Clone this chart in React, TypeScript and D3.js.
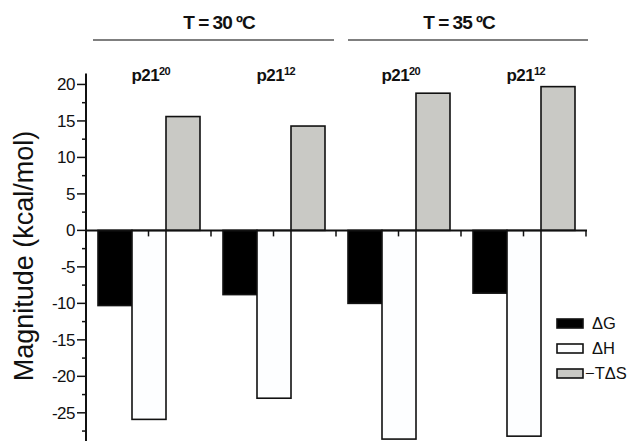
import * as d3 from "d3";
import React, { useEffect, useRef } from "react";

const groups = ["30-p21-20", "30-p21-12", "35-p21-20", "35-p21-12"];
const groupSup = ["20", "12", "20", "12"];
const series = ["ΔG", "ΔH", "−TΔS"];
const dG = [-10.3, -8.8, -10.0, -8.6];
const dH = [-25.9, -23.0, -28.6, -28.2];
const tdS = [15.6, 14.3, 18.8, 19.7];
const temps = ["T = 30 ºC", "T = 35 ºC"];
const yTicks = [-25, -20, -15, -10, -5, 0, 5, 10, 15, 20];
const colors = ["#000000", "#fdfeff", "#c9c9c5"];

export default function App() {
  const ref = useRef<SVGSVGElement>(null);

  useEffect(() => {
    const svg = d3.select(ref.current);
    svg.selectAll("*").remove();
    const font = "Liberation Sans, Arial, sans-serif";

    const x = d3.scaleBand().domain(groups).range([86, 586]);
    const xs = d3.scaleBand().domain(series).range([12, 114]);
    const y = d3.scaleLinear().domain([-29, 21.5]).range([442, 73.5]);

    const values = [dG, dH, tdS];
    const data = groups.flatMap((g, i) =>
      series.map((s, j) => ({ g, s, v: values[j][i], c: colors[j] }))
    );

    // bars
    svg
      .append("g")
      .selectAll("rect")
      .data(data)
      .join("rect")
      .attr("x", (d) => x(d.g)! + xs(d.s)!)
      .attr("width", xs.bandwidth())
      .attr("y", (d) => y(Math.max(0, d.v)))
      .attr("height", (d) => Math.abs(y(d.v) - y(0)))
      .attr("fill", (d) => d.c)
      .attr("stroke", "#111")
      .attr("stroke-width", 1.6);

    // y axis
    const yAxis = svg.append("g").attr("transform", "translate(86,0)");
    yAxis
      .append("line")
      .attr("y1", y(21.5))
      .attr("y2", y(-29))
      .attr("stroke", "#111")
      .attr("stroke-width", 2);
    const minor = d3.range(-27.5, 21, 5);
    yAxis
      .selectAll(".minor")
      .data(minor)
      .join("line")
      .attr("x1", -4)
      .attr("x2", 0)
      .attr("y1", (d) => y(d))
      .attr("y2", (d) => y(d))
      .attr("stroke", "#111")
      .attr("stroke-width", 1.5);
    yAxis
      .selectAll(".major")
      .data(yTicks)
      .join("line")
      .attr("x1", -9)
      .attr("x2", 0)
      .attr("y1", (d) => y(d))
      .attr("y2", (d) => y(d))
      .attr("stroke", "#111")
      .attr("stroke-width", 1.5);
    yAxis
      .selectAll("text")
      .data(yTicks)
      .join("text")
      .attr("x", -11)
      .attr("y", (d) => y(d))
      .attr("dy", "0.35em")
      .attr("text-anchor", "end")
      .attr("font-family", font)
      .attr("font-size", 17)
      .attr("letter-spacing", -0.5)
      .attr("fill", "#111")
      .text((d) => String(d));

    svg
      .append("text")
      .attr("transform", `translate(33,256) rotate(-90)`)
      .attr("text-anchor", "middle")
      .attr("font-family", font)
      .attr("font-size", 27)
      .attr("fill", "#111")
      .text("Magnitude (kcal/mol)");

    // x axis
    svg
      .append("line")
      .attr("x1", 86)
      .attr("x2", 587)
      .attr("y1", y(0))
      .attr("y2", y(0))
      .attr("stroke", "#111")
      .attr("stroke-width", 2);
    const xTicks = groups.flatMap((g) => [x(g)!, x(g)! + x.bandwidth() / 2]).concat([586]);
    svg
      .append("g")
      .selectAll("line")
      .data(xTicks.slice(1))
      .join("line")
      .attr("x1", (d) => d)
      .attr("x2", (d) => d)
      .attr("y1", y(0))
      .attr("y2", y(0) + 6)
      .attr("stroke", "#111")
      .attr("stroke-width", 1.5);

    // group labels
    const gl = svg
      .append("g")
      .selectAll("text")
      .data(groups)
      .join("text")
      .attr("x", (d) => x(d)! + x.bandwidth() / 2 - 17)
      .attr("y", 81)
      .attr("font-family", font)
      .attr("font-weight", "bold")
      .attr("font-size", 17)
      .attr("letter-spacing", -0.6)
      .attr("fill", "#111");
    gl.append("tspan").text("p21");
    gl.append("tspan")
      .attr("font-size", 11)
      .attr("dy", -6)
      .text((d, i) => groupSup[i]);

    // temperature headers
    const off = [[7, -2], [12, 2]];
    temps.forEach((t, i) => {
      const x0 = x(groups[i * 2])!;
      const x1 = x(groups[i * 2 + 1])! + x.bandwidth();
      svg
        .append("line")
        .attr("x1", x0 + off[i][0])
        .attr("x2", x1 + off[i][1])
        .attr("y1", 40)
        .attr("y2", 40)
        .attr("stroke", "#555")
        .attr("stroke-width", 1.5);
      svg
        .append("text")
        .attr("x", (x0 + x1) / 2 + (i === 0 ? 8 : -2))
        .attr("y", 29)
        .attr("text-anchor", "middle")
        .attr("font-family", font)
        .attr("font-weight", "bold")
        .attr("font-size", 19)
        .attr("letter-spacing", -1)
        .attr("fill", "#111")
        .text(t);
    });

    // legend
    const lg = svg
      .append("g")
      .selectAll("g")
      .data(series)
      .join("g")
      .attr("transform", (d, i) => `translate(557,${319 + i * 25})`);
    lg.append("rect")
      .attr("width", 26)
      .attr("height", 9)
      .attr("fill", (d, i) => colors[i])
      .attr("stroke", "#111")
      .attr("stroke-width", 1.6);
    lg.append("text")
      .attr("x", (d, i) => (i === 2 ? 28 : 35))
      .attr("y", 10)
      .attr("font-family", font)
      .attr("font-size", 16.5)
      .attr("fill", "#111")
      .text((d) => d);
  }, []);

  return (
    <svg
      ref={ref}
      width={640}
      height={441}
      style={{ position: "absolute", left: 0, top: 0, background: "#fff" }}
    />
  );
}
